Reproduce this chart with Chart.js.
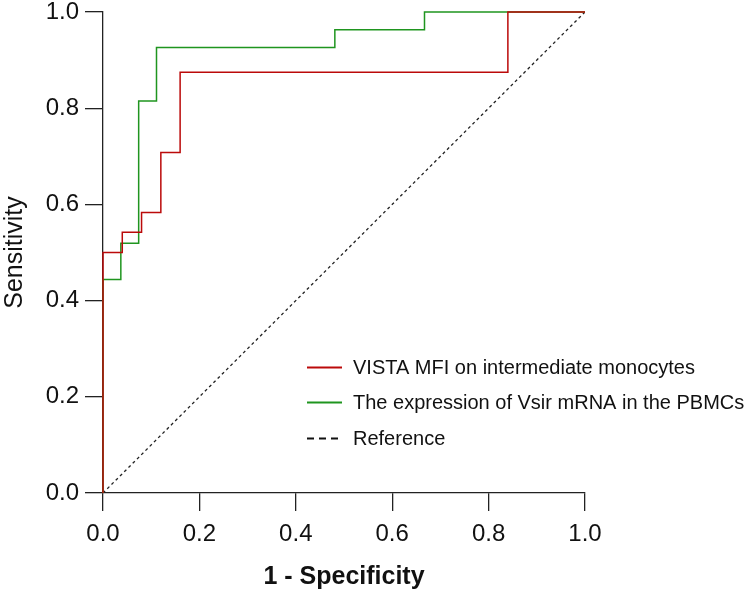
<!DOCTYPE html>
<html>
<head>
<meta charset="utf-8">
<script src="https://cdn.jsdelivr.net/npm/chart.js@4.4.1/dist/chart.umd.min.js"></script>
<style>
  body { margin: 0; background: #fff; }
</style>
</head>
<body>
<canvas id="chart" width="746" height="593"></canvas>
<script>
// ROC points (1 - specificity, sensitivity)
const seriesNames = ['VISTA MFI on intermediate monocytes', 'The expression of Vsir mRNA in the PBMCs', 'Reference'];
const redFpr = [0, 0, 0.04, 0.08, 0.12, 0.16, 0.84, 1];
const redTpr = [0, 0.5, 0.542, 0.583, 0.708, 0.875, 1, 1];
const greenFpr = [0, 0, 0.037, 0.074, 0.111, 0.481, 0.667, 1];
const greenTpr = [0, 0.444, 0.519, 0.815, 0.926, 0.963, 1, 1];
const refX = [0, 1];
const refY = [0, 1];
const tickValues = [0, 0.2, 0.4, 0.6, 0.8, 1.0];

const font = 'Liberation Sans, Arial, sans-serif';

function pts(xs, ys) {
    return xs.map((x, i) => ({ x: x, y: ys[i] }));
}

// little legend drawn inside the plot
const legendPlugin = {
    id: 'rocLegend',
    afterDatasetsDraw(chart) {
        const ctx = chart.ctx;
        const rows = [367, 402, 438];
        ctx.save();
        ctx.font = '20px ' + font;
        ctx.textBaseline = 'middle';
        chart.data.datasets.forEach((ds, i) => {
            const y = rows[i];
            ctx.beginPath();
            ctx.strokeStyle = ds.borderDash ? '#111' : ds.borderColor;
            ctx.lineWidth = 2;
            ctx.setLineDash(ds.borderDash ? [7, 5] : []);
            ctx.moveTo(307, y + 0.5);
            ctx.lineTo(342, y + 0.5);
            ctx.stroke();
            ctx.setLineDash([]);
            ctx.fillStyle = '#111';
            ctx.fillText(ds.label, 353, y + 1);
        });
        ctx.restore();
    }
};

const ctx = document.getElementById('chart').getContext('2d');
const myChart = new Chart(ctx, {
    type: 'scatter',
    data: {
        datasets: [{
            label: seriesNames[0],
            data: pts(redFpr, redTpr),
            showLine: true,
            stepped: 'before',
            borderColor: '#bb0a0a',
            borderWidth: 1.5,
            pointRadius: 0,
            clip: false
        }, {
            label: seriesNames[1],
            data: pts(greenFpr, greenTpr),
            showLine: true,
            stepped: 'before',
            borderColor: '#1f951f',
            borderWidth: 1.5,
            pointRadius: 0,
            clip: false
        }, {
            label: seriesNames[2],
            data: pts(refX, refY),
            showLine: true,
            borderColor: '#222',
            borderDash: [3, 3],
            borderWidth: 1.3,
            pointRadius: 0
        }]
    },
    options: {
        responsive: false,
        animation: false,
        layout: { padding: { top: 12, right: 161, left: 0, bottom: 0 } },
        plugins: {
            legend: { display: false },
            tooltip: { enabled: false }
        },
        scales: {
            x: {
                type: 'linear',
                min: 0,
                max: 1,
                afterBuildTicks: (axis) => { axis.ticks = tickValues.map(v => ({ value: v })); },
                afterFit: (axis) => { axis.height = 100; axis.paddingLeft = 0; axis.paddingRight = 0; },
                ticks: {
                    color: '#111',
                    font: { family: font, size: 24 },
                    padding: 9,
                    maxRotation: 0,
                    callback: (v) => Number(v).toFixed(1)
                },
                grid: { drawOnChartArea: false, tickLength: 18, color: '#222', lineWidth: 1.3 },
                border: { color: '#222', width: 1.3 },
                title: {
                    display: true,
                    text: '1 - Specificity',
                    color: '#111',
                    font: { family: font, size: 25, weight: 'bold' },
                    padding: { top: 0, bottom: 1 }
                }
            },
            y: {
                type: 'linear',
                min: 0,
                max: 1,
                afterBuildTicks: (axis) => { axis.ticks = tickValues.map(v => ({ value: v })); },
                afterFit: (axis) => { axis.width = 103; axis.paddingTop = 0; axis.paddingBottom = 0; },
                ticks: {
                    color: '#111',
                    font: { family: font, size: 24 },
                    padding: 6,
                    callback: (v) => Number(v).toFixed(1)
                },
                grid: { drawOnChartArea: false, tickLength: 18, color: '#222', lineWidth: 1.3 },
                border: { color: '#222', width: 1.3 },
                title: {
                    display: true,
                    text: 'Sensitivity',
                    color: '#111',
                    font: { family: font, size: 25 },
                    padding: { top: 0, bottom: 0 }
                }
            }
        }
    },
    plugins: [legendPlugin]
});
</script>
</body>
</html>
